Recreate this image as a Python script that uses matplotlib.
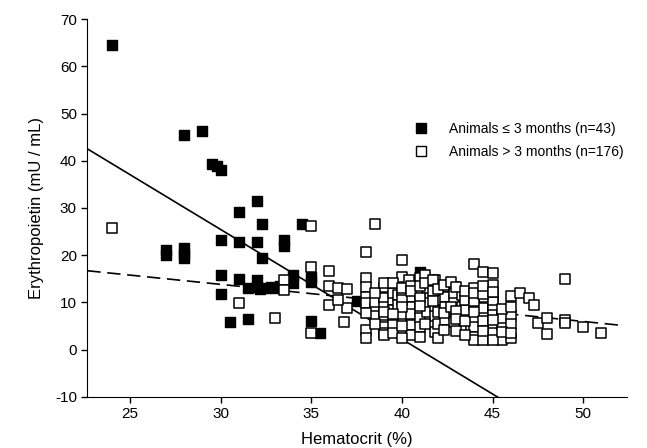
import numpy as np
import matplotlib.pyplot as plt
from matplotlib.lines import Line2D

plt.rcParams['font.family'] = ['Liberation Sans', 'DejaVu Sans']
plt.rcParams['axes.unicode_minus'] = False

# animals <= 3 months (filled squares)
young_hct = [24.0, 27.0, 27.0, 28.0, 28.0, 28.0, 28.0, 29.0, 29.5, 29.8,
             30.0, 30.0, 30.0, 30.0, 30.5, 31.0, 31.0, 31.0, 31.5, 32.0,
             32.0, 32.0, 32.0, 32.3, 32.3, 32.5, 32.8, 33.0, 33.3, 33.5,
             33.5, 34.0, 34.0, 34.5, 35.0, 35.0, 35.0, 35.5, 37.5, 32.2,
             41.0, 42.5, 31.5]
young_epo = [64.5, 21.0, 20.0, 45.5, 21.5, 20.3, 19.3, 46.3, 39.3, 38.8,
             38.0, 23.3, 15.9, 11.8, 5.9, 29.2, 22.7, 14.9, 6.5, 31.5,
             22.7, 14.7, 13.3, 26.5, 19.3, 13.0, 13.3, 13.0, 13.4, 23.3,
             22.0, 15.8, 14.0, 26.5, 15.3, 14.3, 6.0, 3.6, 10.3, 12.8,
             16.5, 7.3, 13.0]

# animals > 3 months (open squares)
old_hct = [24.0, 31.0, 33.0, 33.5, 33.5, 35.0, 35.0, 35.0, 36.0, 36.0,
           36.5, 36.0, 36.8, 37.0,
           38.0, 38.0, 38.0, 38.0, 38.0, 38.0, 38.0,
           38.5, 38.5, 38.5, 38.5,
           39.0, 39.0, 39.0, 39.0, 39.0, 39.0, 39.0, 39.0, 39.0,
           39.5, 39.5, 39.5, 39.5, 39.5,
           39.8, 39.8,
           40.0, 40.0, 40.0, 40.0,
           40.4,
           40.5, 40.5, 40.5, 40.5, 40.5,
           41.0, 41.0, 41.0, 41.0, 41.0, 41.0, 41.0,
           41.4, 41.4, 41.4,
           41.8, 41.8, 41.8, 41.8, 41.8,
           42.0, 42.0, 42.0,
           42.4, 42.4, 42.4, 42.4,
           42.9, 42.9, 42.9, 42.9, 42.9,
           43.3, 43.3, 43.5, 43.5, 43.8,
           44.0, 44.0, 44.0, 44.0, 44.0, 44.0, 44.0,
           44.5, 44.5, 44.5, 44.5,
           45.0, 45.0, 45.0, 45.0, 45.0, 45.0, 45.0, 45.0,
           45.5, 45.5, 45.5, 45.5,
           46.0, 46.0, 46.0, 46.0,
           46.5, 47.0, 47.3, 47.5, 48.0, 48.0, 49.0, 49.0, 49.0, 50.0, 51.0,
           38.5, 38.5, 39.0, 39.0, 39.5, 39.5,
           40.0, 40.0, 40.0, 40.0, 40.0, 40.5, 40.5,
           41.0, 41.0, 41.0, 41.3, 41.3, 41.3, 41.7, 41.7, 41.7,
           42.0, 42.0, 42.3, 42.3, 42.3, 42.7, 42.7,
           43.0, 43.0, 43.0, 43.0, 43.5, 43.5, 43.5,
           44.0, 44.0, 44.0, 44.0, 44.5, 44.5, 44.5, 44.5,
           45.0, 45.0, 45.0, 45.5, 45.5, 46.0, 46.0,
           36.5, 37.0, 38.0, 39.5]
old_epo = [25.7, 9.9, 6.7, 14.7, 12.6, 26.2, 17.5, 3.6, 16.6, 13.5,
           13.0, 9.4, 5.8, 8.7,
           20.6, 15.1, 13.3, 11.2, 9.8, 4.1, 2.4,
           26.5, 8.7, 7.0, 10.0,
           13.0, 11.2, 10.9, 9.1, 7.0, 5.2, 4.8, 3.4, 3.1,
           10.5, 8.4, 6.6, 5.2, 12.0,
           11.6, 9.4,
           19.0, 15.4, 12.5, 7.5,
           14.7,
           11.2, 9.1, 5.2, 3.1, 7.5,
           15.1, 10.1, 8.4, 6.6, 4.8, 2.7, 12.0,
           13.0, 9.8, 8.0,
           14.7, 11.6, 9.1, 7.0, 3.8,
           10.5, 8.0, 5.5,
           13.3, 11.2, 9.1, 6.3,
           13.2, 10.5, 7.4, 5.8, 12.0,
           11.6, 9.0, 8.4, 10.5, 4.8,
           18.1, 11.2, 9.4, 6.3, 4.8, 2.7, 2.0,
           16.5, 9.1, 8.8, 2.0,
           16.2, 13.7, 11.2, 10.1, 8.4, 7.3, 5.2, 3.4,
           7.0, 5.2, 2.0, 6.7,
           11.3, 7.3, 5.5, 2.4,
           12.0, 10.9, 9.4, 5.6, 6.7, 3.3, 14.9, 6.3, 5.6, 4.8, 3.4,
           12.0, 5.5, 14.0, 8.0, 14.0, 3.5,
           10.5, 9.0, 5.0, 2.5, 13.0, 13.5, 12.5,
           13.5, 11.0, 9.3, 15.8, 14.0, 5.5, 14.7, 12.5, 10.3,
           2.5, 12.8, 13.7, 7.8, 4.2, 14.4, 9.0,
           13.3, 8.2, 4.0, 6.5, 12.5, 6.0, 3.0,
           13.0, 10.3, 8.0, 12.0, 11.7, 6.0, 4.0, 13.5,
           12.2, 6.2, 2.0, 8.5, 3.8, 9.0, 3.5,
           10.5, 12.8, 7.8, 7.5]

# regression lines (intercept, slope)
young_fit = (95.2, -2.325)
old_fit = (25.6, -0.393)

fig = plt.figure(figsize=(6.47, 4.48), dpi=100)
ax = fig.add_axes([0.135, 0.1145, 0.8336, 0.8425])

xs = np.array([22.65, 47.0])
ax.plot(xs, young_fit[0] + young_fit[1] * xs, color='black', lw=1.2, zorder=1)
xd = np.array([22.65, 51.95])
ax.plot(xd, old_fit[0] + old_fit[1] * xd, color='black', lw=1.2,
        dashes=(8, 4), zorder=1)

ax.scatter(young_hct, young_epo, s=56, marker='s', facecolor='black',
           edgecolor='black', linewidths=1.0, zorder=2)
ax.scatter(old_hct, old_epo, s=56, marker='s', facecolor='white',
           edgecolor='black', linewidths=1.1, zorder=3)

ax.set_xlim(22.65, 52.4)
ax.set_ylim(-10, 70)
ax.set_xticks([25, 30, 35, 40, 45, 50])
ax.set_yticks(range(-10, 71, 10))
ax.spines['top'].set_visible(False)
ax.spines['right'].set_visible(False)
ax.tick_params(direction='out', length=4, width=1, labelsize=11)
ax.set_xlabel('Hematocrit (%)', fontsize=12, labelpad=8)
ax.set_ylabel('Erythropoietin (mU / mL)', fontsize=12, labelpad=8)

handles = [Line2D([], [], ls='none', marker='s', ms=7, mfc='black', mec='black'),
           Line2D([], [], ls='none', marker='s', ms=7, mfc='white', mec='black')]
ax.legend(handles, ['Animals \u2264 3 months (n=43)', 'Animals > 3 months (n=176)'],
          loc='upper left', bbox_to_anchor=(0.57, 0.76), frameon=False,
          fontsize=10, handletextpad=1.0, labelspacing=0.6)

fig.savefig('out.png', dpi=100)
